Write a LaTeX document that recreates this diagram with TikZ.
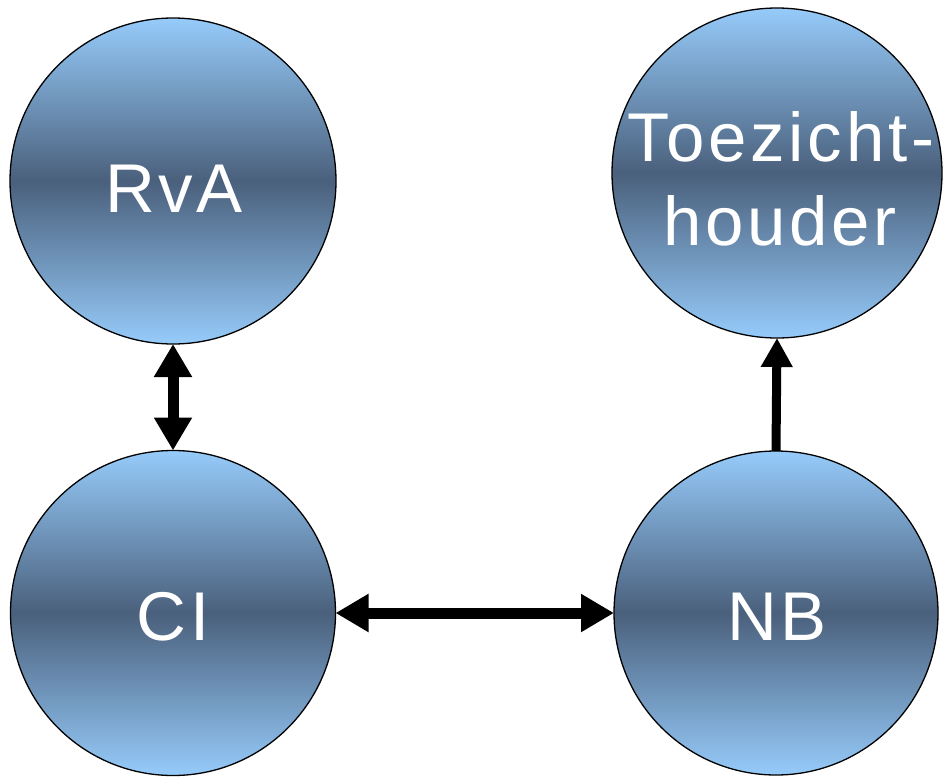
\documentclass[tikz,border=0pt]{standalone}
\usepackage{fontspec}
\setmainfont{Liberation Sans}
\usetikzlibrary{arrows.meta}
\definecolor{lightb}{RGB}{150,203,250}
\definecolor{darkb}{RGB}{74,96,124}
\tikzset{
  ball/.style={circle, draw=black, line width=1.3pt, minimum size=#1, inner sep=0pt, outer sep=0pt,
    top color=lightb, bottom color=lightb, middle color=darkb},
  lbl/.style={text=white, anchor=base, inner sep=0pt, font=\fontsize{69}{80}\selectfont\addfontfeature{LetterSpace=5.5}},
  dbl/.style={line width=11pt, {Triangle[width=36pt,length=33pt]}-{Triangle[width=36pt,length=33pt]}},
  sgl/.style={line width=9pt, -{Triangle[width=30pt,length=29pt]}}
}
\begin{document}
\begin{tikzpicture}[x=1pt,y=-1pt]
\useasboundingbox (0,0) rectangle (944,776);
\node[ball=326pt] (rva) at (173,181) {};
\node[ball=330pt] (tz) at (777,173) {};
\node[ball=325pt] (ci) at (173,613) {};
\node[ball=324pt] (nb) at (776,613) {};
\node[lbl] (rvat) at (174,212) {RvA};
\node[lbl] (tzt1) at (781,161) {Toezicht-};
\node[lbl] (tzt2) at (780,245) {houder};
\node[lbl] (cit) at (173,640) {CI};
\node[lbl] (nbt) at (777,640) {NB};
\draw[dbl] (rva) -- (ci);
\draw[dbl] (ci) -- (nb);
\draw[sgl] (nb.north) -- (tz.south);
\end{tikzpicture}
\end{document}
